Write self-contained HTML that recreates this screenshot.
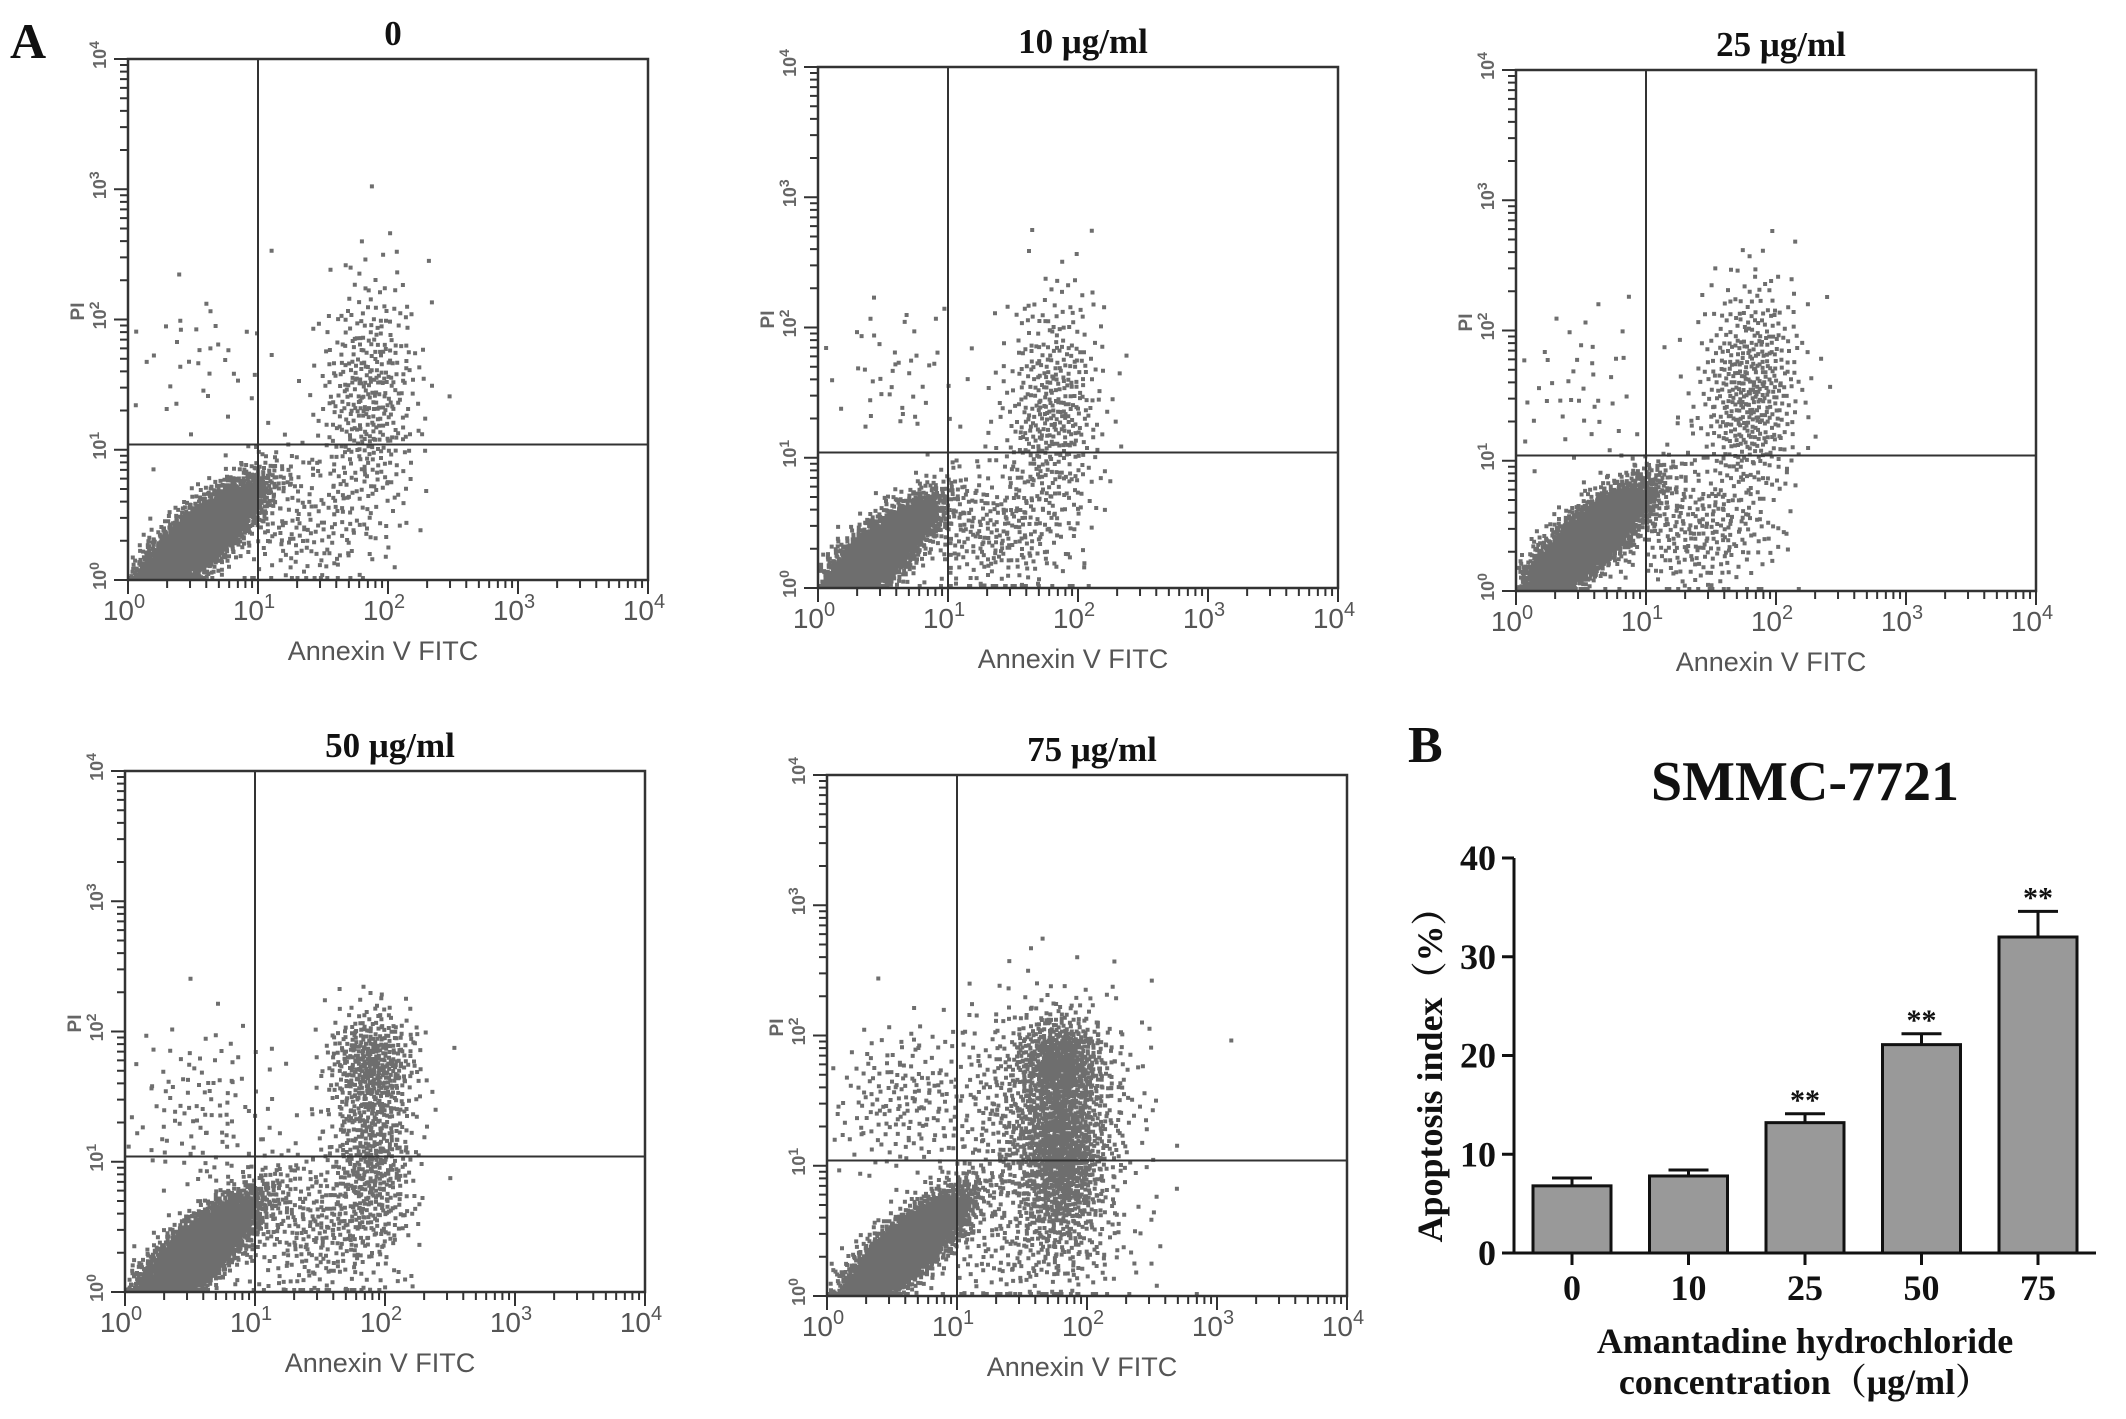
<!DOCTYPE html>
<html><head><meta charset="utf-8"><style>
html,body{margin:0;padding:0;background:#fff}
svg{display:block}
</style></head><body>
<svg id="fig" width="2126" height="1419" viewBox="0 0 2126 1419" xmlns="http://www.w3.org/2000/svg">
<text x="10" y="58" font-family="Liberation Serif, serif" font-weight="bold" font-size="50" fill="#111">A</text>
<text x="1408" y="762" font-family="Liberation Serif, serif" font-weight="bold" font-size="52" fill="#111">B</text>
<g id="flows"></g>
<g id="bars"></g>
</svg>
<script>
// ---- Flow cytometry data: clusters in log10 units [cx, cy, sx, sy, rho, count]
const panelTitles = ["0", "10 μg/ml", "25 μg/ml", "50 μg/ml", "75 μg/ml"];
const clusters0 = [[0.55,0.32,0.24,0.22,0.8,3600],[1.85,1.35,0.2,0.5,0.1,420],[1.35,0.4,0.3,0.25,0,170],[0.55,1.7,0.3,0.3,0,40]];
const clusters1 = [[0.45,0.25,0.24,0.22,0.8,3000],[1.8,1.3,0.2,0.5,0.1,450],[1.35,0.4,0.3,0.25,0,260],[0.6,1.65,0.3,0.3,0,50]];
const clusters2 = [[0.55,0.38,0.24,0.22,0.8,3600],[1.8,1.5,0.2,0.45,0.1,500],[1.4,0.45,0.3,0.25,0,260],[0.5,1.55,0.3,0.35,0,50]];
const clusters3 = [[0.55,0.3,0.24,0.22,0.8,3600],[1.9,1.75,0.17,0.22,0,400],[1.9,1.0,0.17,0.4,0,500],[1.45,0.5,0.3,0.3,0,320],[0.6,1.4,0.3,0.35,0,120]];
const clusters4 = [[0.6,0.35,0.24,0.22,0.8,3300],[1.8,1.8,0.17,0.17,0,500],[1.8,1.1,0.17,0.35,0,900],[1.7,1.4,0.35,0.45,0,700],[0.6,1.5,0.3,0.3,0,200],[1.6,0.4,0.4,0.3,0,300]];
const allClusters = [clusters0, clusters1, clusters2, clusters3, clusters4];
const gateX = [1, 1, 1, 1, 1];
const gateY = [1.04, 1.04, 1.04, 1.04, 1.04];
const decadeLabels = ["0","1","2","3","4"];

// ---- Bar chart data
const barCategories = ["0","10","25","50","75"];
const barValues = [6.8, 7.8, 13.2, 21.1, 32.0];
const barErrors = [0.8, 0.6, 0.9, 1.1, 2.6];
const barSig = ["", "", "**", "**", "**"];
const yTicks = [0, 10, 20, 30, 40];

const NS = "http://www.w3.org/2000/svg";
function mk(tag, attrs, parent){const e=document.createElementNS(NS,tag);for(const k in attrs)e.setAttribute(k,attrs[k]);parent.appendChild(e);return e;}

const layout = [[128,59],[818,67],[1516,70],[125,771],[827,775]];
const PW = 520, PH = 521;
function halton(i,b){let f=1,r=0;while(i>0){f/=b;r+=f*(i%b);i=Math.floor(i/b);}return r;}

const flows = document.getElementById('flows');
layout.forEach((pos, p) => {
  const L = pos[0], T = pos[1];
  const xs = v => L + v / 4 * PW;
  const ys = v => T + PH - v / 4 * PH;
  const g = mk('g', {}, flows);
  
  
  const t = mk('text', {x: L + PW/2 + 5, y: T - 14, 'text-anchor':'middle', 'font-family':'Liberation Serif, serif', 'font-weight':'bold', 'font-size':'35', fill:'#111'}, g);
  t.textContent = panelTitles[p];
  
  
  const pts = mk('g', {fill:'#6e6e6e'}, g);
  
  
  let idx = 1 + p * 7919;
  let d = '';
  allClusters[p].forEach(c => {
    for (let k = 0; k < c[5]; k++, idx++) {
      const u1 = Math.max(1e-6, halton(idx, 2)), u2 = halton(idx, 3);
      const r = Math.sqrt(-2 * Math.log(u1));
      const z1 = r * Math.cos(2*Math.PI*u2), z2 = r * Math.sin(2*Math.PI*u2);
      let lx = c[0] + c[2] * z1;
      let ly = c[1] + c[3] * (c[4] * z1 + Math.sqrt(1 - c[4]*c[4]) * z2);
      if (lx < 0.02 || lx > 3.98) continue;
      if (ly < 0) ly = 0; if (ly > 3.98) continue;
      const px = xs(lx), py = Math.min(ys(ly), T + PH - 2);
      d += 'M' + (px-2).toFixed(1) + ' ' + (py-2).toFixed(1) + 'h4v4h-4z';
    }
  });
  mk('path', {d: d}, pts);
  const fr = mk('rect', {x:L, y:T, width:PW, height:PH, fill:'none', stroke:'#333', 'stroke-width':'2.5'}, g);
  
  
  const gv = mk('line', {x1: xs(gateX[p]), x2: xs(gateX[p]), y1: T, y2: T+PH, stroke:'#333', 'stroke-width':'2'}, g);
  
  
  const gh = mk('line', {x1: L, x2: L+PW, y1: ys(gateY[p]), y2: ys(gateY[p]), stroke:'#333', 'stroke-width':'2'}, g);
  
  
  let td = '';
  for (let dcd = 0; dcd < 4; dcd++) {
    for (let m = 1; m < 10; m++) {
      const v = dcd + Math.log10(m);
      const len = m === 1 ? 14 : 8;
      td += 'M' + xs(v) + ' ' + (T+PH) + 'v' + len;
      td += 'M' + L + ' ' + ys(v) + 'h' + (-len);
    }
  }
  td += 'M' + xs(4) + ' ' + (T+PH) + 'v14M' + L + ' ' + ys(4) + 'h-14';
  const ticks = mk('path', {d: td, stroke:'#333', 'stroke-width':'2', fill:'none'}, g);
  
  
  decadeLabels.forEach((lab, i) => {
    const tx = mk('text', {x: xs(i) - 4, y: T + PH + 40, 'text-anchor':'middle', 'font-family':'Liberation Sans, sans-serif', 'font-size':'28', fill:'#555'}, g);
    tx.innerHTML = '10<tspan dy="-12" font-size="20">' + lab + '</tspan>';
    
    
    const ty = mk('text', {x: 0, y: 0, 'text-anchor':'middle', 'font-family':'Liberation Sans, sans-serif', 'font-weight':'bold', 'font-size':'18', fill:'#666', transform: 'translate(' + (L - 22) + ',' + (ys(i) - 4) + ') rotate(-90)'}, g);
    ty.innerHTML = '10<tspan dy="-7" font-size="14">' + lab + '</tspan>';
    
    
  });
  const xt = mk('text', {x: L + PW/2 - 5, y: T + PH + 80, 'text-anchor':'middle', 'font-family':'Liberation Sans, sans-serif', 'font-size':'27', fill:'#555'}, g);
  xt.textContent = 'Annexin V FITC';
  
  
  const yt = mk('text', {x:0, y:0, 'text-anchor':'middle', 'font-family':'Liberation Sans, sans-serif', 'font-weight':'bold', 'font-size':'19', fill:'#666', transform:'translate(' + (L - 44) + ',' + (ys(2) - 8) + ') rotate(-90)'}, g);
  yt.textContent = 'PI';
  
  
});

// ---- Bar chart
const bars = document.getElementById('bars');
const AX = 1514, AY0 = 1253, AY40 = 858, AXEND = 2096;
const yb = v => AY0 - (v - yTicks[0]) / (yTicks[yTicks.length-1] - yTicks[0]) * (AY0 - AY40);
const xc0 = 1572, xstep = 116.5, BW = 78;
const xb = i => xc0 + i * xstep;
const title = mk('text', {x:1805, y:800, 'text-anchor':'middle', 'font-family':'Liberation Serif, serif', 'font-weight':'bold', 'font-size':'56', fill:'#111'}, bars);
title.textContent = 'SMMC-7721';


barValues.forEach((v, i) => {
  const top = yb(v), etop = yb(v + barErrors[i]);
  const r = mk('rect', {x: xb(i) - BW/2, y: top, width: BW, height: AY0 - top, fill:'#999', stroke:'#111', 'stroke-width':'3'}, bars);
  
  
  const e = mk('path', {d: 'M' + xb(i) + ' ' + top + 'V' + etop + 'M' + (xb(i)-20) + ' ' + etop + 'H' + (xb(i)+20), stroke:'#111', 'stroke-width':'3', fill:'none'}, bars);
  
  
  if (barSig[i]) {
    const s = mk('text', {x: xb(i), y: etop - 4, 'text-anchor':'middle', 'font-family':'Liberation Serif, serif', 'font-weight':'bold', 'font-size':'30', fill:'#111'}, bars);
    s.textContent = barSig[i];
    
    
  }
  const tk = mk('line', {x1: xb(i), x2: xb(i), y1: AY0, y2: AY0 + 12, stroke:'#111', 'stroke-width':'3'}, bars);
  
  
  const lb = mk('text', {x: xb(i), y: 1300, 'text-anchor':'middle', 'font-family':'Liberation Serif, serif', 'font-weight':'bold', 'font-size':'36', fill:'#111'}, bars);
  lb.textContent = barCategories[i];
  
  
});
yTicks.forEach(v => {
  const tk = mk('line', {x1: AX - 12, x2: AX, y1: yb(v), y2: yb(v), stroke:'#111', 'stroke-width':'3'}, bars);
  
  
  const lb = mk('text', {x: AX - 18, y: yb(v) + 12, 'text-anchor':'end', 'font-family':'Liberation Serif, serif', 'font-weight':'bold', 'font-size':'36', fill:'#111'}, bars);
  lb.textContent = v;
  
  
});
const axes = mk('path', {d: 'M' + AX + ' ' + AY40 + 'V' + AY0 + 'H' + AXEND, stroke:'#111', 'stroke-width':'3', fill:'none'}, bars);


const xl1 = mk('text', {x:1805, y:1353, 'text-anchor':'middle', 'font-family':'Liberation Serif, "Noto Serif CJK SC", serif', 'font-weight':'bold', 'font-size':'36', fill:'#111'}, bars);
xl1.textContent = 'Amantadine hydrochloride';


const xl2 = mk('text', {x:1805, y:1394, 'text-anchor':'middle', 'font-family':'Liberation Serif, "Noto Serif CJK SC", serif', 'font-weight':'bold', 'font-size':'36', fill:'#111'}, bars);
xl2.textContent = 'concentration（μg/ml）';


const yl = mk('text', {x:0, y:0, 'text-anchor':'middle', 'font-family':'Liberation Serif, "Noto Serif CJK SC", serif', 'font-weight':'bold', 'font-size':'36', fill:'#111', transform:'translate(1442,1066) rotate(-90)'}, bars);
yl.textContent = 'Apoptosis index（%）';


</script>
</body></html>
